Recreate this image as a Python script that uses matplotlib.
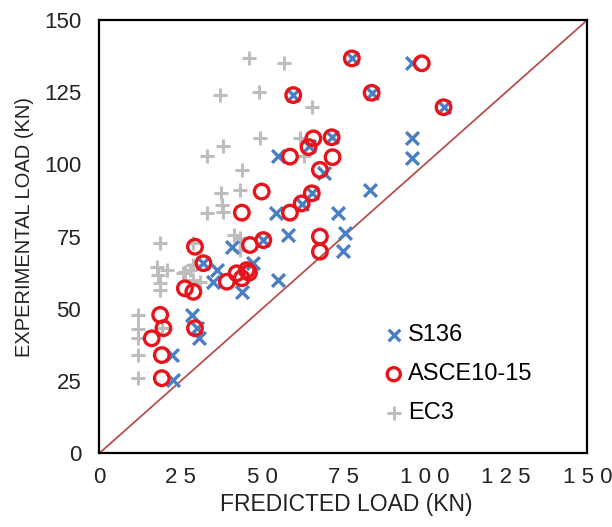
import matplotlib
matplotlib.use("Agg")
import matplotlib.pyplot as plt

plt.rcParams["font.family"] = ["Liberation Sans", "DejaVu Sans"]

# S136 predictions (predicted, experimental), kN
s136_pred = [77.6, 96, 59.6, 83.7, 105.8, 71.4, 96, 96, 54.8, 64.3, 69, 83.2, 65.3, 62.2,
             54.3, 73.5, 58.1, 75.5, 75, 50.4, 40.7, 47.3, 55, 36.1, 35, 43.8, 32,
             28.4, 30, 30.5, 22.3, 22.7]
s136_exp = [136.7, 135, 124, 124.8, 119.8, 109.4, 109, 102.1, 102.9, 106.5, 97, 91, 90, 86.3,
            83.3, 83.3, 75.5, 76.2, 70, 73.8, 71.5, 65.8, 60, 63.4, 59.4, 56, 66,
            48, 43.5, 40, 34, 25.4]

# ASCE 10-15
asce_pred = [77.6, 99.1, 59.6, 83.7, 105.8, 71.4, 65.8, 64.3, 58.6, 71.7, 67.8, 49.9, 65.3,
             62.2, 43.8, 58.6, 67.8, 67.8, 50.4, 46.3, 29.4, 45.3, 42.2, 43.8, 46, 39.2,
             32, 26.3, 28.9, 18.7, 19.7, 16.1, 19.2, 19.2, 29.4]
asce_exp = [136.7, 135, 124, 124.8, 119.8, 109.4, 109, 106, 102.7, 102.5, 98.1, 90.6, 90,
            86.5, 83.3, 83.3, 75, 69.8, 73.8, 72.1, 71.5, 63.4, 62.3, 60.6, 62.5, 59.4,
            65.8, 57.1, 55.9, 47.9, 43.3, 39.8, 34, 26, 43.3]

# EC3
ec3_pred = [46, 56.9, 37, 49, 65.5, 49.4, 61.7, 38.1, 33, 63, 44, 43.3, 37.3, 37.6, 33, 38.1,
            43.3, 43.3, 41.5, 28.9, 18.6, 17.6, 18.1, 18.7, 18.5, 20.7, 26.3, 28.9, 31,
            27.9, 25.8, 28.9, 19.2, 12, 12, 12, 12, 12]
ec3_exp = [137, 135, 124, 125, 120, 109, 109, 106.3, 103, 103, 98, 91.3, 90, 86, 83.3, 83.5,
           74.4, 70.4, 75.5, 72.7, 72.7, 64.6, 61.7, 58.8, 56.5, 63.4, 62.9, 65.2, 59.4,
           63.4, 62.3, 60, 43.3, 48, 43, 40, 34, 26]

ticks = [0, 25, 50, 75, 100, 125, 150]
x_tick_labels = ["0", "2 5", "5 0", "7 5", "1 0 0", "1 2 5", "1 5 0"]

fig = plt.figure(figsize=(6.12, 5.27), dpi=100)
ax = fig.add_axes([0.1623, 0.1399, 0.7974, 0.8222])

ax.plot([0, 150], [0, 150], color="#B5504E", linewidth=1.3, zorder=1)

ax.scatter(s136_pred, s136_exp, marker="x", s=85, color="#4A7EC2", linewidths=2.4,
           label="S136", zorder=3)
ax.scatter(asce_pred, asce_exp, marker="o", s=110, facecolors="none", edgecolors="#E8141B",
           linewidths=2.4, label="ASCE10-15", zorder=4)
ax.scatter(ec3_pred, ec3_exp, marker="+", s=110, color="#BDBDBD", linewidths=2.2,
           label="EC3", zorder=2)

ax.set_xlim(0, 150)
ax.set_ylim(0, 150)
ax.set_xticks(ticks)
ax.set_xticklabels(x_tick_labels)
ax.set_yticks(ticks)
ax.tick_params(length=0, labelsize=16, colors="#222222")
ax.tick_params(axis="x", pad=10)
ax.tick_params(axis="y", pad=13)
for s in ax.spines.values():
    s.set_linewidth(1.6)
    s.set_color("black")

ax.set_xlabel("FREDICTED LOAD (KN)", fontsize=16.5, color="#222222")
ax.set_ylabel("EXPERIMENTAL LOAD (KN)", fontsize=14.5, color="#222222")
ax.xaxis.set_label_coords(0.507, -0.119)
ax.yaxis.set_label_coords(-0.153, 0.522)
ax.xaxis.label.set_va("center")
ax.yaxis.label.set_va("center")

ax.legend(loc="center left", bbox_to_anchor=(0.555, 0.182), frameon=False, fontsize=17,
          borderpad=0, handletextpad=0.1, labelspacing=0.72, handlelength=1.0,
          markerscale=0.9)

fig.savefig("out.png", dpi=100)
